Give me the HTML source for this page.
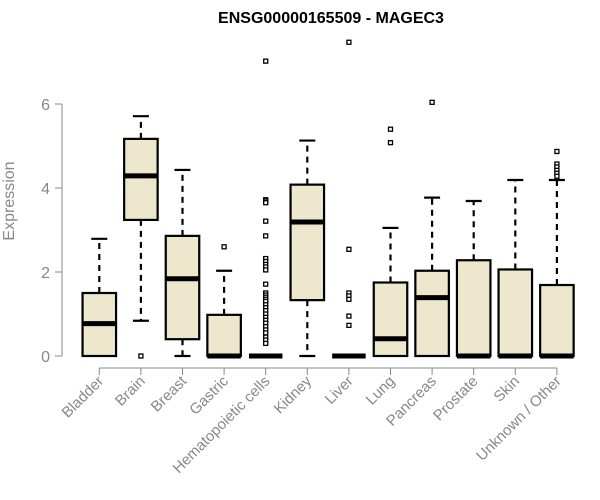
<!DOCTYPE html>
<html><head><meta charset="utf-8"><style>
body{margin:0;background:#fff;}
svg{display:block;font-family:"Liberation Sans",Arial,sans-serif;}
</style></head><body>
<svg id="chart" width="600" height="500" viewBox="0 0 600 500">
<text x="331" y="23" text-anchor="middle" font-weight="bold" font-size="16" fill="#000">ENSG00000165509 - MAGEC3</text>
<text transform="translate(14,201) rotate(-90)" text-anchor="middle" font-size="16" fill="#888">Expression</text>
<g id="yaxis"></g>
<g id="xaxis"></g>
<g id="boxes"></g>
</svg>
<script>
const categories=["Bladder","Brain","Breast","Gastric","Hematopoietic cells","Kidney","Liver","Lung","Pancreas","Prostate","Skin","Unknown / Other"];
const q1=[0,3.24,0.4,0,0,1.33,0,0,0,0,0,0];
const medians=[0.77,4.29,1.84,0,0,3.19,0,0.41,1.39,0,0,0];
const q3=[1.5,5.17,2.86,0.98,0,4.08,0,1.75,2.03,2.28,2.06,1.69];
const whiskerLow=[0,0.84,0,0,0,0,0,0,0,0,0,0];
const whiskerHigh=[2.79,5.71,4.43,2.03,0,5.13,0,3.05,3.77,3.69,4.19,4.19];
const outliers=[[],[0],[],[2.6],[7.02,3.72,3.69,3.65,3.21,2.86,2.32,2.25,2.18,2.12,2.05,1.71,1.5,1.45,1.4,1.35,1.3,1.22,1.15,1.08,1.0,0.92,0.85,0.78,0.7,0.62,0.55,0.45,0.38,0.3],[],[7.47,2.54,1.5,1.43,1.35,0.95,0.73],[5.4,5.08],[6.04],[],[],[4.87,4.57,4.5,4.42,4.35,4.28]];
const yTicks=[0,2,4,6];

const NS="http://www.w3.org/2000/svg";
const y=v=>356-42*v;
const x=i=>99.3+i*41.6;
function mk(parent,tag,attrs){const e=document.createElementNS(NS,tag);for(const k in attrs)e.setAttribute(k,attrs[k]);parent.appendChild(e);return e;}
const ya=document.getElementById('yaxis'),xa=document.getElementById('xaxis'),bx=document.getElementById('boxes');
mk(ya,'line',{x1:62,x2:62,y1:y(6),y2:y(0),stroke:'#888','stroke-width':1});
yTicks.forEach(t=>{
  mk(ya,'line',{x1:55,x2:62,y1:y(t),y2:y(t),stroke:'#888','stroke-width':1});
  const tx=mk(ya,'text',{x:50,y:y(t)+6,'text-anchor':'end','font-size':16,fill:'#888'});
  tx.textContent=t;
  
  
});
mk(xa,'line',{x1:x(0),x2:x(categories.length-1),y1:368,y2:368,stroke:'#888','stroke-width':1});
categories.forEach((c,i)=>{
  mk(xa,'line',{x1:x(i),x2:x(i),y1:368,y2:375,stroke:'#888','stroke-width':1});
  const tx=mk(xa,'text',{transform:`translate(${x(i)+5},${382}) rotate(-45)`,'text-anchor':'end','font-size':15,fill:'#888'});
  tx.textContent=c;
  
  
});
categories.forEach((c,i)=>{
  const cx=x(i),w=33.5;
  const g=mk(bx,'g',{});
  
  
  if(whiskerHigh[i]>q3[i]){
    mk(g,'line',{x1:cx,x2:cx,y1:y(q3[i]),y2:y(whiskerHigh[i]),stroke:'#000','stroke-width':2.2,'stroke-dasharray':'6,5'});
  }
  if(whiskerHigh[i]>0) mk(g,'line',{x1:cx-8,x2:cx+8,y1:y(whiskerHigh[i]),y2:y(whiskerHigh[i]),stroke:'#000','stroke-width':2.2});
  if(whiskerLow[i]<q1[i]){
    mk(g,'line',{x1:cx,x2:cx,y1:y(q1[i]),y2:y(whiskerLow[i]),stroke:'#000','stroke-width':2.2,'stroke-dasharray':'6,5'});
    mk(g,'line',{x1:cx-8,x2:cx+8,y1:y(whiskerLow[i]),y2:y(whiskerLow[i]),stroke:'#000','stroke-width':2.2});
  }
  if(q3[i]>q1[i]) mk(g,'rect',{x:cx-w/2,y:y(q3[i]),width:w,height:y(q1[i])-y(q3[i]),fill:'#ede7cd',stroke:'#000','stroke-width':2.2});
  mk(g,'line',{x1:cx-w/2,x2:cx+w/2,y1:y(medians[i]),y2:y(medians[i]),stroke:'#000','stroke-width':5});
  outliers[i].forEach(v=>{
    const p=mk(g,'rect',{x:cx-2,y:y(v)-2,width:4,height:4,fill:'#fff',stroke:'#000','stroke-width':1.3});
    
    
  });
});
</script>
</body></html>
